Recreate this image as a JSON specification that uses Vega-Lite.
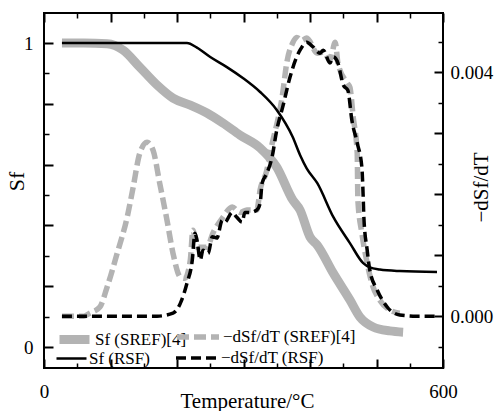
{
  "$schema": "https://vega.github.io/schema/vega-lite/v6.json",
  "width": 399,
  "height": 355,
  "autosize": {"type": "none"},
  "padding": {"left": 44, "top": 13, "right": 59, "bottom": 43},
  "background": "white",
  "config": {
    "view": {"stroke": "black", "strokeWidth": 2},
    "axis": {"domain": false, "ticks": true, "tickSize": 0, "gridColor": "black", "gridOpacity": 1, "labelFont": "Liberation Serif", "labelFontSize": 19, "labelColor": "black", "titleFont": "Liberation Serif", "titleFontWeight": "normal", "titleColor": "black", "labelFlush": false, "labelOverlap": false, "labelBound": false},
    "legend": {"labelFont": "Liberation Serif", "labelFontSize": 17, "labelColor": "black", "padding": 0, "symbolType": "stroke", "labelOffset": 1}
  },
  "datasets": {
    "sref_sf": [
      {"T": 27, "Sf": 1.0}, {"T": 60, "Sf": 1.0}, {"T": 95, "Sf": 0.998}, {"T": 119, "Sf": 0.977}, {"T": 144, "Sf": 0.921}, {"T": 170, "Sf": 0.862}, {"T": 194, "Sf": 0.819}, {"T": 220, "Sf": 0.796}, {"T": 245, "Sf": 0.770}, {"T": 269, "Sf": 0.737}, {"T": 295, "Sf": 0.697}, {"T": 325, "Sf": 0.655}, {"T": 350, "Sf": 0.592}, {"T": 374, "Sf": 0.484}, {"T": 385, "Sf": 0.451}, {"T": 400, "Sf": 0.362}, {"T": 411, "Sf": 0.335}, {"T": 435, "Sf": 0.243}, {"T": 460, "Sf": 0.155}, {"T": 475, "Sf": 0.099}, {"T": 495, "Sf": 0.066}, {"T": 520, "Sf": 0.053}, {"T": 540, "Sf": 0.049}
    ],
    "rsf_sf": [
      {"T": 27, "Sf": 1.0}, {"T": 150, "Sf": 1.0}, {"T": 215, "Sf": 1.0}, {"T": 230, "Sf": 0.985}, {"T": 250, "Sf": 0.954}, {"T": 275, "Sf": 0.921}, {"T": 299, "Sf": 0.885}, {"T": 325, "Sf": 0.839}, {"T": 350, "Sf": 0.780}, {"T": 374, "Sf": 0.691}, {"T": 385, "Sf": 0.632}, {"T": 395, "Sf": 0.588}, {"T": 411, "Sf": 0.539}, {"T": 435, "Sf": 0.428}, {"T": 460, "Sf": 0.342}, {"T": 480, "Sf": 0.276}, {"T": 490, "Sf": 0.262}, {"T": 505, "Sf": 0.255}, {"T": 535, "Sf": 0.250}, {"T": 591, "Sf": 0.247}
    ],
    "sref_d": [
      {"T": 27, "D": 0}, {"T": 60, "D": 0}, {"T": 69, "D": 0.00005}, {"T": 84, "D": 0.00015}, {"T": 95, "D": 0.00048}, {"T": 110, "D": 0.00103}, {"T": 125, "D": 0.00162}, {"T": 134, "D": 0.00211}, {"T": 144, "D": 0.00267}, {"T": 155, "D": 0.00285}, {"T": 164, "D": 0.00272}, {"T": 174, "D": 0.00218}, {"T": 185, "D": 0.00157}, {"T": 194, "D": 0.00103}, {"T": 205, "D": 0.00064}, {"T": 212, "D": 0.00062}, {"T": 220, "D": 0.00092}, {"T": 224, "D": 0.00141}, {"T": 230, "D": 0.00113}, {"T": 245, "D": 0.00113}, {"T": 254, "D": 0.00136}, {"T": 269, "D": 0.00162}, {"T": 283, "D": 0.00179}, {"T": 295, "D": 0.00170}, {"T": 305, "D": 0.00174}, {"T": 320, "D": 0.00174}, {"T": 325, "D": 0.00207}, {"T": 335, "D": 0.00239}, {"T": 340, "D": 0.00267}, {"T": 359, "D": 0.00366}, {"T": 365, "D": 0.00415}, {"T": 374, "D": 0.00448}, {"T": 380, "D": 0.00457}, {"T": 388, "D": 0.00452}, {"T": 395, "D": 0.00456}, {"T": 411, "D": 0.00431}, {"T": 420, "D": 0.00433}, {"T": 430, "D": 0.00420}, {"T": 438, "D": 0.00449}, {"T": 442, "D": 0.00415}, {"T": 456, "D": 0.00382}, {"T": 460, "D": 0.00375}, {"T": 465, "D": 0.00326}, {"T": 471, "D": 0.00267}, {"T": 472, "D": 0.00190}, {"T": 478, "D": 0.00136}, {"T": 486, "D": 0.00087}, {"T": 493, "D": 0.00054}, {"T": 505, "D": 0.00026}, {"T": 520, "D": 0.00010}, {"T": 535, "D": 0.00005}
    ],
    "rsf_d": [
      {"T": 27, "D": 0}, {"T": 170, "D": 0}, {"T": 194, "D": 0.00005}, {"T": 205, "D": 0.00021}, {"T": 215, "D": 0.00054}, {"T": 223, "D": 0.00092}, {"T": 227, "D": 0.00136}, {"T": 230, "D": 0.00125}, {"T": 235, "D": 0.00092}, {"T": 239, "D": 0.00108}, {"T": 247, "D": 0.00103}, {"T": 253, "D": 0.00130}, {"T": 260, "D": 0.00128}, {"T": 268, "D": 0.00157}, {"T": 272, "D": 0.00154}, {"T": 283, "D": 0.00170}, {"T": 290, "D": 0.00162}, {"T": 298, "D": 0.00154}, {"T": 302, "D": 0.00170}, {"T": 310, "D": 0.00170}, {"T": 320, "D": 0.00174}, {"T": 325, "D": 0.00185}, {"T": 328, "D": 0.00218}, {"T": 335, "D": 0.00234}, {"T": 343, "D": 0.00261}, {"T": 350, "D": 0.00305}, {"T": 359, "D": 0.00343}, {"T": 370, "D": 0.00392}, {"T": 380, "D": 0.00425}, {"T": 385, "D": 0.00436}, {"T": 395, "D": 0.00449}, {"T": 405, "D": 0.00441}, {"T": 415, "D": 0.00431}, {"T": 420, "D": 0.00436}, {"T": 430, "D": 0.00415}, {"T": 435, "D": 0.00425}, {"T": 442, "D": 0.00415}, {"T": 450, "D": 0.00379}, {"T": 457, "D": 0.00370}, {"T": 463, "D": 0.00321}, {"T": 471, "D": 0.00284}, {"T": 478, "D": 0.00244}, {"T": 480, "D": 0.00195}, {"T": 481, "D": 0.00162}, {"T": 486, "D": 0.00108}, {"T": 490, "D": 0.00075}, {"T": 501, "D": 0.00043}, {"T": 516, "D": 0.00015}, {"T": 535, "D": 0.00002}, {"T": 560, "D": 0}, {"T": 591, "D": 0}
    ]
  },
  "layer": [
    {
      "data": {"name": "sref_sf"},
      "mark": {"type": "line", "strokeWidth": 9, "interpolate": "monotone", "strokeJoin": "round"},
      "encoding": {
        "x": {"field": "T", "type": "quantitative", "scale": {"domain": [0, 600], "nice": false, "zero": false},
          "axis": {"orient": "bottom", "values": [0, 100, 200, 300, 400, 500, 600], "grid": true, "gridDash": [9, 1000], "gridWidth": 2, "labelPadding": 14, "labelExpr": "datum.value == 0 || datum.value == 600 ? datum.label : ''", "title": "Temperature/°C", "titleFontSize": 21, "titleBaseline": "top", "titleY": 22, "titleX": 203}},
        "y": {"field": "Sf", "type": "quantitative", "scale": {"domain": [-0.069, 1.099], "nice": false, "zero": false},
          "axis": {"orient": "left", "values": [0, 0.2, 0.4, 0.6, 0.8, 1], "grid": true, "gridDash": [9, 1000], "gridWidth": 2, "labelPadding": 11, "labelExpr": "datum.value == 0 ? '0' : datum.value == 1 ? '1' : ''", "title": "Sf", "titleFontSize": 22, "titleAngle": -90, "titleBaseline": "middle", "titleX": -28, "titleY": 168}},
        "color": {"datum": "Sf (SREF)[4]", "type": "nominal", "scale": {"domain": ["Sf (SREF)[4]"], "range": ["#b3b3b3"]},
          "legend": {"title": null, "orient": "none", "legendX": 11, "legendY": 307, "symbolSize": 900, "symbolStrokeWidth": 9}}
      }
    },
    {
      "data": {"name": "sref_d"},
      "mark": {"type": "line", "strokeWidth": 5.5, "strokeDash": [12, 5], "interpolate": "monotone"},
      "encoding": {
        "x": {"field": "T", "type": "quantitative", "scale": {"domain": [0, 600], "nice": false, "zero": false},
          "axis": {"orient": "bottom", "values": [50, 150, 250, 350, 450, 550], "grid": true, "gridDash": [5, 1000], "gridWidth": 1.5, "labels": false, "title": null}},
        "y": {"field": "D", "type": "quantitative", "scale": {"domain": [-0.00085, 0.00497], "nice": false, "zero": false},
          "axis": {"orient": "right", "values": [0, 0.001, 0.002, 0.003, 0.004], "grid": true, "gridDash": [9, 1000], "gridWidth": 2, "labelPadding": 7, "labelExpr": "datum.value == 0 ? '0.000' : datum.value == 0.004 ? '0.004' : ''", "title": "−dSf/dT", "titleFontSize": 21, "titleAngle": -90, "titleBaseline": "middle", "titleX": 38, "titleY": 174}},
        "color": {"datum": "−dSf/dT (SREF)[4]", "type": "nominal", "scale": {"domain": ["−dSf/dT (SREF)[4]"], "range": ["#b3b3b3"]},
          "legend": {"title": null, "orient": "none", "legendX": 130, "legendY": 300, "symbolSize": 1764, "symbolStrokeWidth": 5.5, "symbolDash": [12, 5]}}
      }
    },
    {
      "data": {"name": "rsf_sf"},
      "mark": {"type": "line", "strokeWidth": 2.5, "interpolate": "monotone"},
      "encoding": {
        "x": {"field": "T", "type": "quantitative", "scale": {"domain": [0, 600], "nice": false, "zero": false},
          "axis": {"orient": "top", "values": [0, 100, 200, 300, 400, 500, 600], "grid": true, "gridDash": [9, 1000], "gridWidth": 2, "labels": false, "title": null}},
        "y": {"field": "Sf", "type": "quantitative", "scale": {"domain": [-0.069, 1.099], "nice": false, "zero": false},
          "axis": {"orient": "left", "values": [0.1, 0.3, 0.5, 0.7, 0.9], "grid": true, "gridDash": [5, 1000], "gridWidth": 1.5, "labels": false, "title": null}},
        "color": {"datum": "Sf (RSF)", "type": "nominal", "scale": {"domain": ["Sf (RSF)"], "range": ["black"]},
          "legend": {"title": null, "orient": "none", "legendX": 11, "legendY": 329, "symbolSize": 900, "symbolStrokeWidth": 2.5}}
      }
    },
    {
      "data": {"name": "rsf_d"},
      "mark": {"type": "line", "strokeWidth": 3.5, "strokeDash": [10, 5], "interpolate": "monotone"},
      "encoding": {
        "x": {"field": "T", "type": "quantitative", "scale": {"domain": [0, 600], "nice": false, "zero": false},
          "axis": {"orient": "top", "values": [50, 150, 250, 350, 450, 550], "grid": true, "gridDash": [5, 1000], "gridWidth": 1.5, "labels": false, "title": null}},
        "y": {"field": "D", "type": "quantitative", "scale": {"domain": [-0.00085, 0.00497], "nice": false, "zero": false},
          "axis": {"orient": "right", "values": [-0.0005, 0.0005, 0.0015, 0.0025, 0.0035, 0.0045], "grid": true, "gridDash": [5, 1000], "gridWidth": 1.5, "labels": false, "title": null}},
        "color": {"datum": "−dSf/dT (RSF)", "type": "nominal", "scale": {"domain": ["−dSf/dT (RSF)"], "range": ["black"]},
          "legend": {"title": null, "orient": "none", "legendX": 130, "legendY": 322, "symbolSize": 1764, "symbolStrokeWidth": 3.5, "symbolDash": [10, 5]}}
      }
    }
  ],
  "resolve": {
    "scale": {"x": "independent", "y": "independent", "color": "independent"},
    "axis": {"x": "independent", "y": "independent"},
    "legend": {"color": "independent"}
  }
}
